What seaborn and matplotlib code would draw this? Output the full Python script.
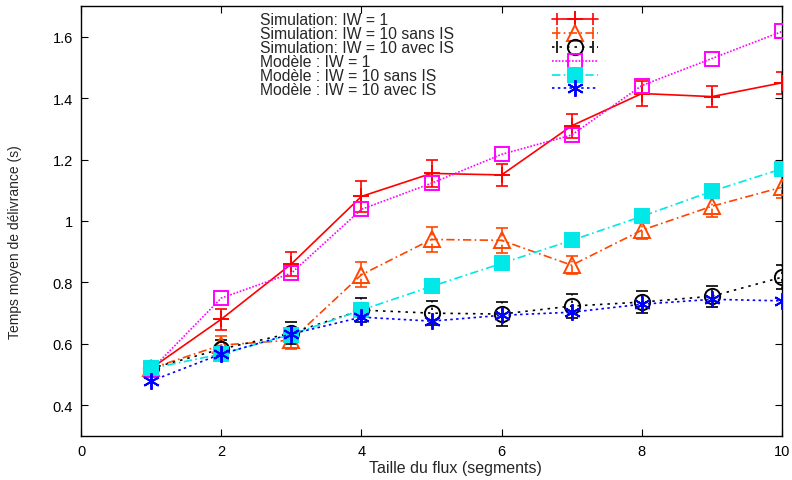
import pandas as pd
import seaborn as sns
import matplotlib.pyplot as plt
from matplotlib.lines import Line2D
from matplotlib.legend_handler import HandlerLine2D, HandlerTuple

# Données
taille = [1, 2, 3, 4, 5, 6, 7, 8, 9, 10]

sim_iw1 = [0.52, 0.68, 0.86, 1.08, 1.155, 1.15, 1.31, 1.415, 1.405, 1.45]
sim_iw1_err = [0.015, 0.035, 0.04, 0.05, 0.045, 0.035, 0.04, 0.04, 0.033, 0.036]

sim_iw10_sans = [0.52, 0.596, 0.612, 0.825, 0.94, 0.937, 0.856, 0.97, 1.048, 1.11]
sim_iw10_sans_err = [0.015, 0.03, 0.03, 0.04, 0.04, 0.04, 0.03, 0.03, 0.035, 0.035]

sim_iw10_avec = [0.52, 0.583, 0.635, 0.71, 0.70, 0.697, 0.723, 0.736, 0.755, 0.817]
sim_iw10_avec_err = [0.015, 0.03, 0.035, 0.04, 0.04, 0.04, 0.04, 0.035, 0.035, 0.04]

mod_iw1 = [0.515, 0.749, 0.83, 1.038, 1.123, 1.217, 1.28, 1.441, 1.529, 1.617]
mod_iw10_sans = [0.52, 0.567, 0.63, 0.71, 0.787, 0.862, 0.937, 1.015, 1.097, 1.17]
mod_iw10_avec = [0.479, 0.567, 0.632, 0.687, 0.674, 0.693, 0.703, 0.729, 0.745, 0.74]

labels = ["Simulation: IW = 1", "Simulation: IW = 10 sans IS",
          "Simulation: IW = 10 avec IS", "Modèle : IW = 1",
          "Modèle : IW = 10 sans IS", "Modèle : IW = 10 avec IS"]

xticks = [0, 2, 4, 6, 8, 10]
yticks = [0.4, 0.6, 0.8, 1.0, 1.2, 1.4, 1.6]
ytick_labels = ["0.4", "0.6", "0.8", "1", "1.2", "1.4", "1.6"]

sns.set_style("ticks")
plt.rcParams['font.family'] = ['Liberation Sans', 'DejaVu Sans']

fig = plt.figure(figsize=(7.92, 4.81), dpi=100)
ax = fig.add_axes([81/792, 1 - 437/481, 701/792, 430/481])

# style de chaque courbe : couleur, marqueur, trait, remplissage
styles = [
    dict(color='#ff0000', marker='+', ls='-', mfc='#ff0000', ms=12),
    dict(color='#ff4500', marker='^', ls=(0, (5, 2, 1, 2)), mfc='none', ms=11),
    dict(color='#000000', marker='o', ls=(0, (1.5, 3)), mfc='none', ms=11),
    dict(color='#ff00ff', marker='s', ls=(0, (1, 1)), mfc='none', ms=10),
    dict(color='#00e8e8', marker='s', ls=(0, (5, 2, 1, 2)), mfc='#00e8e8', ms=10),
    dict(color='#0000ff', marker=(6, 2, 0), ls=(0, (1.5, 2)), mfc='#0000ff', ms=12),
]
series = [sim_iw1, sim_iw10_sans, sim_iw10_avec, mod_iw1, mod_iw10_sans, mod_iw10_avec]
errors = [sim_iw1_err, sim_iw10_sans_err, sim_iw10_avec_err, None, None, None]

handles = []
handler_map = {}
for y, err, st in zip(series, errors, styles):
    sns.lineplot(x=taille, y=y, ax=ax, color=st['color'], marker=st['marker'],
                 linestyle=st['ls'], linewidth=1.2, markersize=st['ms'],
                 markerfacecolor=st['mfc'], markeredgecolor=st['color'],
                 markeredgewidth=1.4, legend=False, zorder=3)
    line = Line2D([], [], color=st['color'], marker=st['marker'], linestyle=st['ls'],
                  linewidth=1.2, markersize=st['ms'], markerfacecolor=st['mfc'],
                  markeredgecolor=st['color'], markeredgewidth=1.4)
    if err is not None:
        eb = ax.errorbar(taille, y, yerr=err, fmt='none', ecolor=st['color'],
                         elinewidth=1.2, capsize=4, capthick=1.2, zorder=2)
        if st['ls'] != '-':
            for lc in eb[2]:
                lc.set_linestyle(st['ls'])
        caps = Line2D([], [], color=st['color'], marker='|', linestyle='none',
                      markersize=8, markeredgewidth=1.2)
        handler_map[caps] = HandlerLine2D(numpoints=2)
        handles.append((line, caps))
    else:
        handles.append(line)

handler_map[tuple] = HandlerTuple(ndivide=1)

# légende en deux parties : symboles à droite, textes alignés à gauche
leg_kw = dict(loc='upper left', frameon=False, fontsize=11.3, labelspacing=-0.07,
              borderpad=0, borderaxespad=0)
leg_sym = ax.legend(handles, [" "] * len(handles), handler_map=handler_map,
                    bbox_to_anchor=(0.672, 0.985), handlelength=2.9,
                    handletextpad=0, **leg_kw)
ax.add_artist(leg_sym)
blank = [Line2D([], [], linestyle='none') for _ in labels]
ax.legend(blank, labels, bbox_to_anchor=(0.255, 0.985), handlelength=0,
          handletextpad=0, **leg_kw)

ax.set_xlim(0, 10)
ax.set_ylim(0.3, 1.7)
ax.set_xticks(xticks)
ax.set_yticks(yticks)
ax.set_yticklabels(ytick_labels)
ax.tick_params(direction='in', length=5, width=0.8, top=True, right=True,
               labelsize=10.5, pad=6, colors='black')
for s in ax.spines.values():
    s.set_visible(True)
    s.set_linewidth(1.0)
    s.set_color('black')

ax.set_xlabel('Taille du flux (segments)', fontsize=11.5, va='center')
ax.set_ylabel('Temps moyen de délivrance (s)', fontsize=10, va='center')
ax.xaxis.set_label_coords((455 - 81) / 701, (437 - 469) / 430)
ax.yaxis.set_label_coords((15 - 81) / 701, (437 - 242) / 430)

fig.savefig('out.png', dpi=100)
